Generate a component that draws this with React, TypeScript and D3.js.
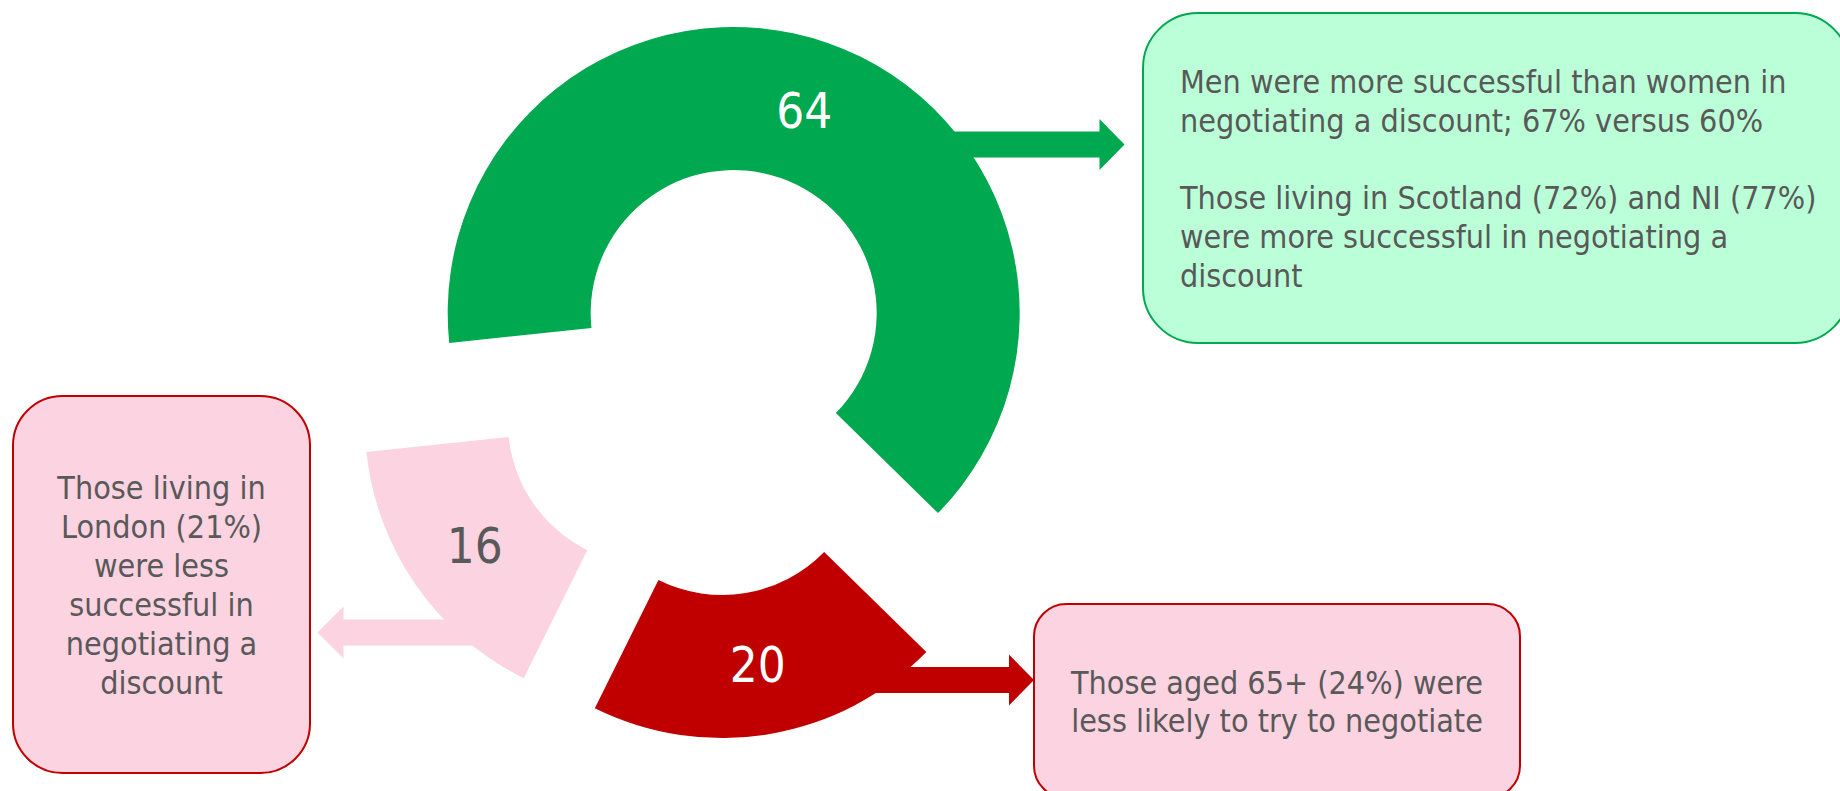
import React from 'react';
import * as d3 from 'd3';

// slice values, in drawing order (clockwise from the first slice angle)
const segments = ['Negotiated a discount', 'Did not try', 'Tried, no discount'];
const values = [64, 20, 16];

// callout texts
const successNote = [
    'Men were more successful than women in',
    'negotiating a discount; 67% versus 60%',
    '',
    'Those living in Scotland (72%) and NI (77%)',
    'were more successful in negotiating a',
    'discount',
];
const olderNote = ['Those aged 65+ (24%) were', 'less likely to try to negotiate'];
const londonNote = ['Those living in', 'London (21%)', 'were less', 'successful in', 'negotiating a', 'discount'];

const W = 1840;
const H = 791;
const cx = 710;
const cy = 381;
const outerR = 286;
const innerR = 143;
const explode = 72;
const firstSliceAngle = 264; // degrees

const sliceFill = ['#00A84F', '#C00000', '#FBD3E1'];
const labelFill = ['#FFFFFF', '#FFFFFF', '#595959'];
const textGray = '#595959';
const font = 'DejaVu Sans, sans-serif';
const squeeze = 0.9;

const arrowPath = (tail, tip, y, shaft, head, headLen) => {
    const dir = tip > tail ? 1 : -1;
    const base = tip - dir * headLen;
    return [
        `M${tail},${y - shaft / 2}`,
        `L${base},${y - shaft / 2}`,
        `L${base},${y - head / 2}`,
        `L${tip},${y}`,
        `L${base},${y + head / 2}`,
        `L${base},${y + shaft / 2}`,
        `L${tail},${y + shaft / 2}`,
        'Z',
    ].join('');
};

const Callout = ({ x, y, w, h, fill, stroke, lines, anchor, tx, ty, lh }) => (
    <g>
        <rect x={x} y={y} width={w} height={h} rx={Math.min(w, h) / 6} ry={Math.min(w, h) / 6}
            fill={fill} stroke={stroke} strokeWidth={2} />
        {lines.map((t, i) => (
            <g key={i} transform={`translate(${tx},${ty + i * lh}) scale(${squeeze},1)`}>
                <text textAnchor={anchor} fontFamily={font} fontSize={32} fill={textGray}>{t}</text>
            </g>
        ))}
    </g>
);

const App = () => {
    const rad = (d) => (d * Math.PI) / 180;
    const pie = d3.pie().sort(null)
        .startAngle(rad(firstSliceAngle))
        .endAngle(rad(firstSliceAngle + 360));
    const arcs = pie(values);
    const arc = d3.arc().innerRadius(innerR).outerRadius(outerR);

    const shift = (a) => {
        const mid = (a.startAngle + a.endAngle) / 2;
        return [Math.sin(mid) * explode, -Math.cos(mid) * explode];
    };

    return (
        <svg width={W} height={H} style={{ position: 'absolute', left: 0, top: 0, display: 'block', background: '#fff' }}>
            {/* arrows sit under the slices */}
            <path d={arrowPath(900, 1124.5, 144.5, 26, 51, 25)} fill={sliceFill[0]} />
            <path d={arrowPath(850, 1034, 680, 26, 51, 25)} fill={sliceFill[1]} />
            <path d={arrowPath(500, 317.5, 632.5, 26, 52, 26)} fill={sliceFill[2]} />

            <g transform={`translate(${cx},${cy})`}>
                {arcs.map((a, i) => {
                    const [dx, dy] = shift(a);
                    const [lx, ly] = arc.centroid(a);
                    return (
                        <g key={segments[i]} transform={`translate(${dx},${dy})`}>
                            <path d={arc(a)} fill={sliceFill[i]} />
                            <g transform={`translate(${lx},${ly}) scale(0.88,1)`}>
                                <text textAnchor="middle" dy="0.36em" fontFamily={font} fontSize={50}
                                    fill={labelFill[i]}>{values[i]}</text>
                            </g>
                        </g>
                    );
                })}
            </g>

            <Callout x={1143} y={13} w={707} h={330} fill="#BBFFD8" stroke="#00A84F"
                lines={successNote} anchor="start" tx={1180} ty={93} lh={38.8} />
            <Callout x={1034} y={604} w={486} h={194} fill="#FBD3E1" stroke="#C00000"
                lines={olderNote} anchor="middle" tx={1277} ty={693.5} lh={38.4} />
            <Callout x={13} y={396} w={297} h={377} fill="#FBD3E1" stroke="#C00000"
                lines={londonNote} anchor="middle" tx={161.5} ty={498.5} lh={39} />
        </svg>
    );
};

export default App;
